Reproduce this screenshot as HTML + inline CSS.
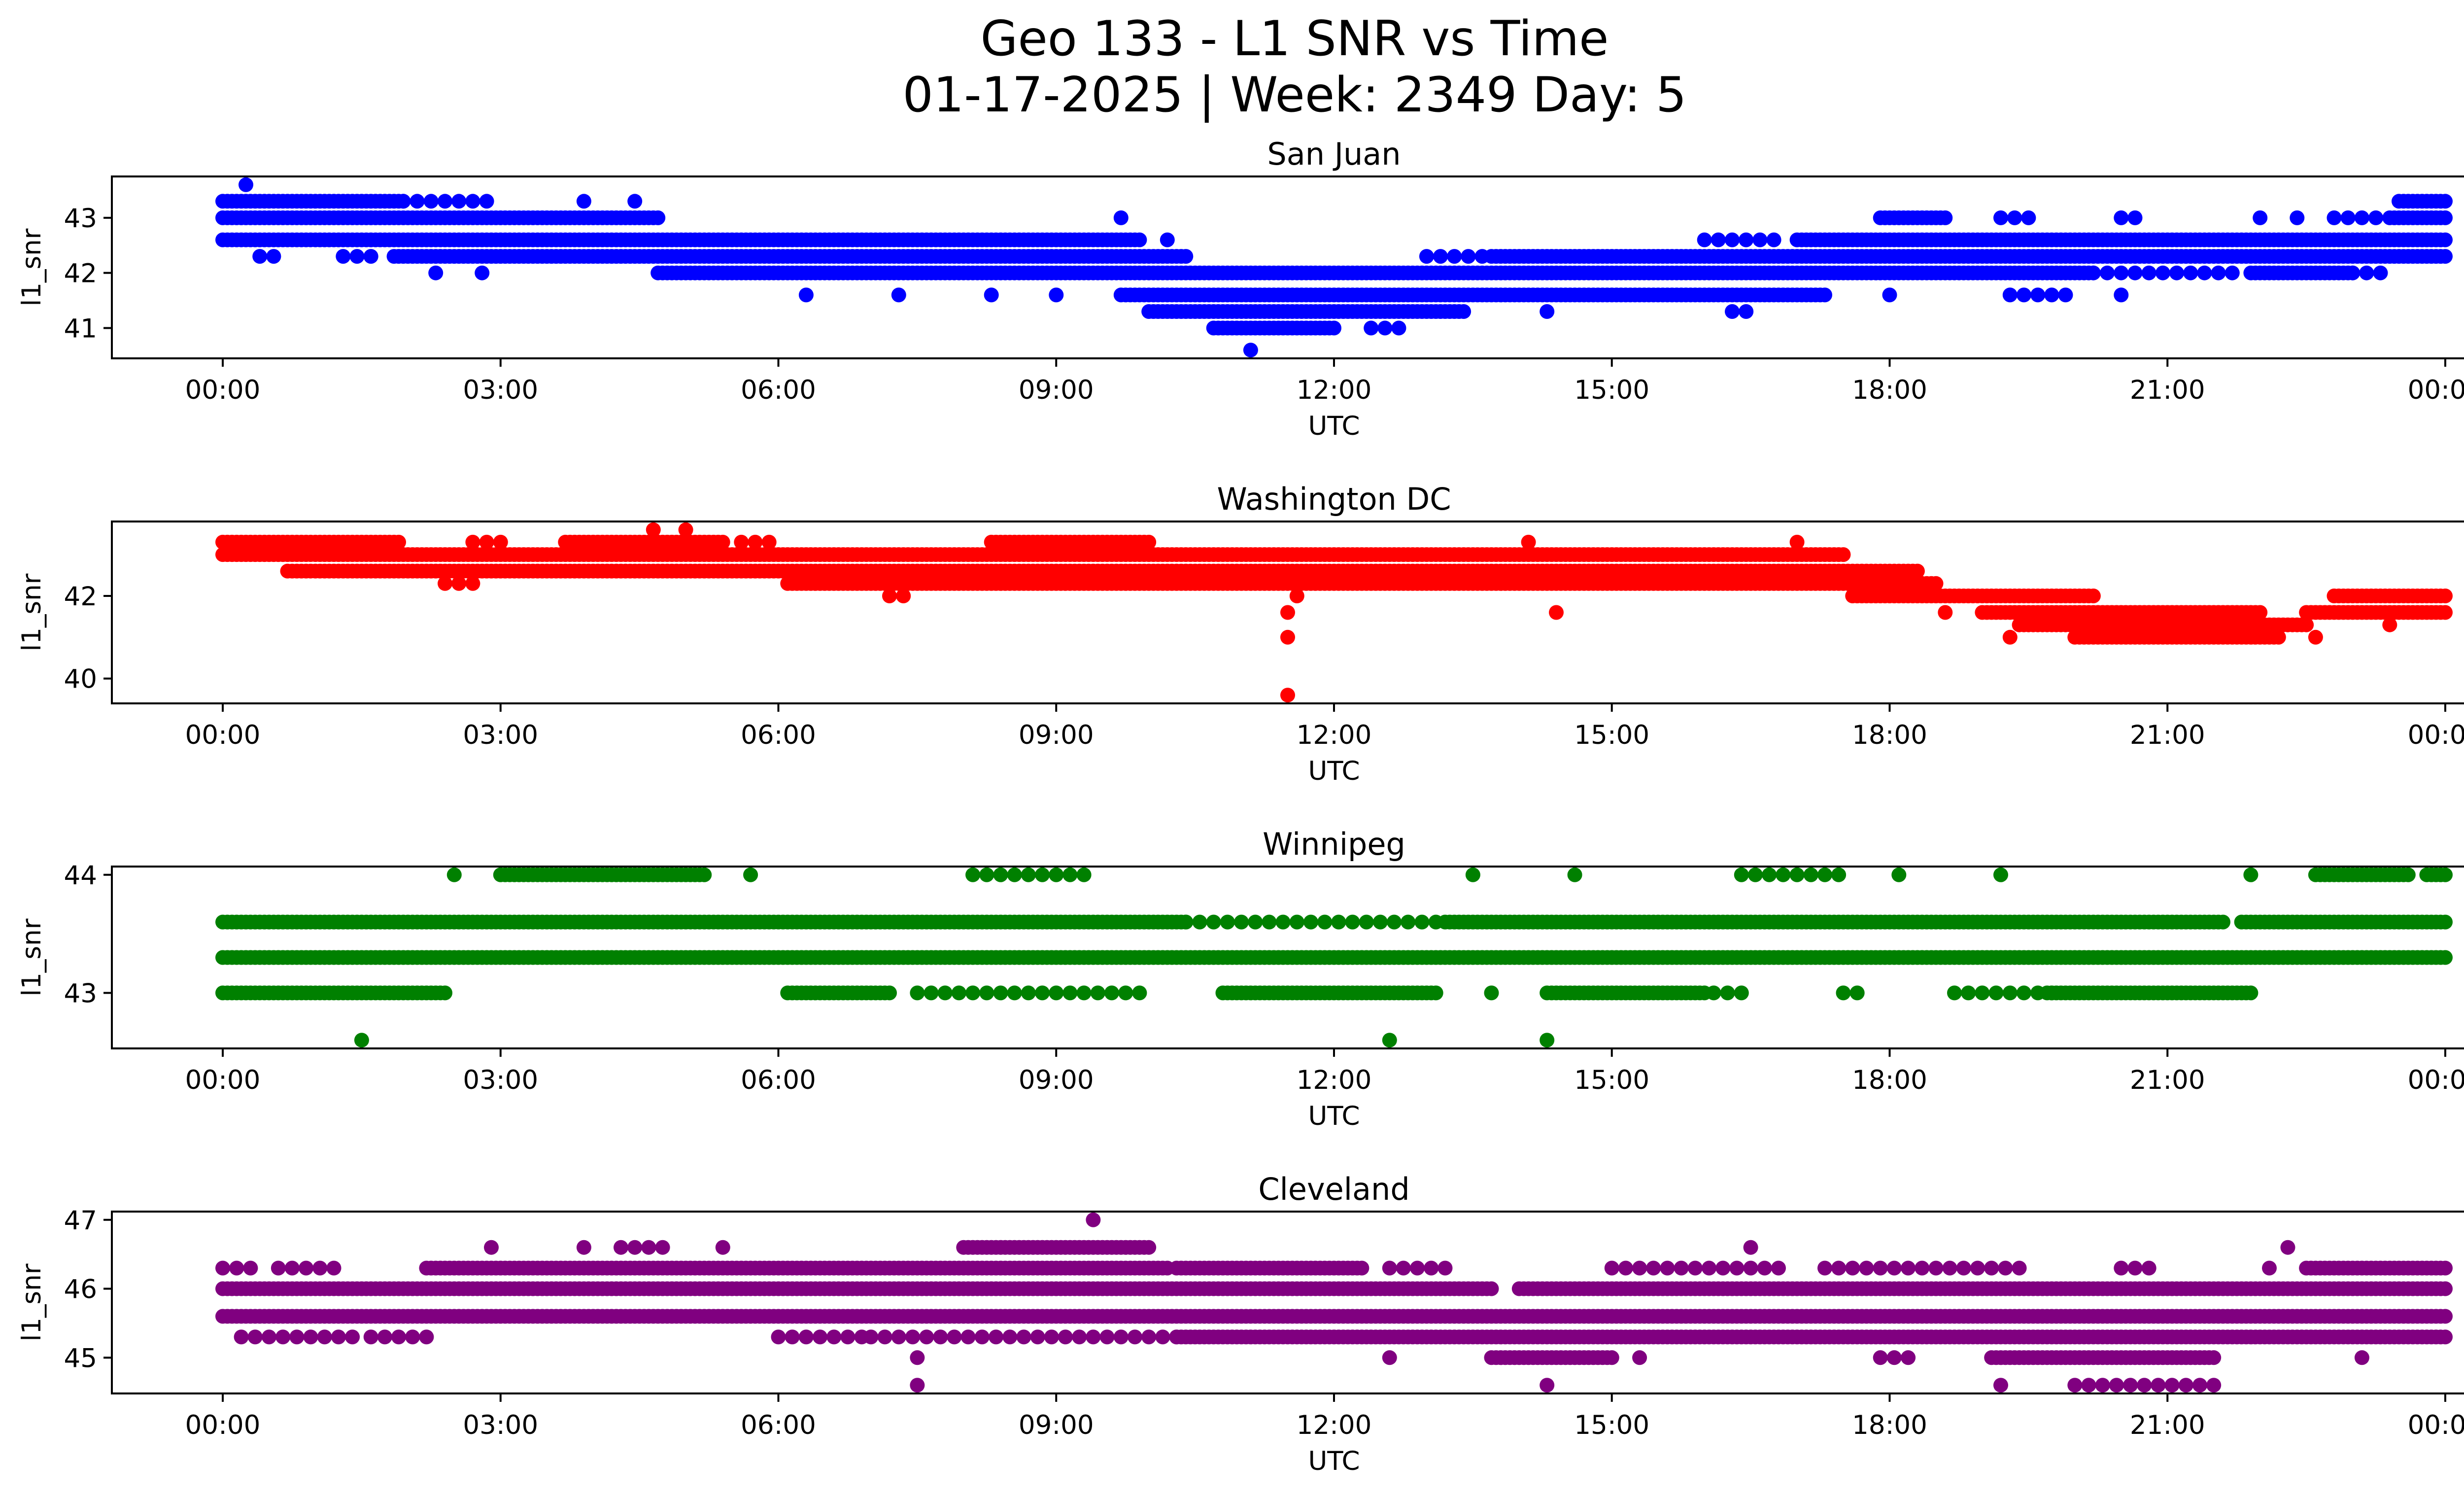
<!DOCTYPE html>
<html><head><meta charset="utf-8">
<style>
html,body{margin:0;padding:0;background:#fff;}
svg{display:block;font-family:"DejaVu Sans","Liberation Sans",sans-serif;}
</style></head>
<body>
<svg id="fig" xmlns="http://www.w3.org/2000/svg" width="5226" height="3033" viewBox="0 0 5226 3033">
<rect width="5226" height="3033" fill="#fff"/>
<text x="2627" y="112" font-size="98" text-anchor="middle">Geo 133 - L1 SNR vs Time</text>
<text x="2627" y="226" font-size="98" text-anchor="middle">01-17-2025 | Week: 2349 Day: 5</text>
</svg>
<script>
// Data runs: [level (dB-Hz), startHour, endHour, dense(1)/sparse(0)]
const stationNames = ["San Juan", "Washington DC", "Winnipeg", "Cleveland"];
const stationColors = ["#0000ff", "#ff0000", "#008000", "#800080"];
const sanJuanRuns = [
  [43.3,0,1.95,1],[43.3,1.95,2.9,0],[43.3,3.9,3.9,0],[43.3,4.45,4.45,0],[43.3,23.5,24,1],
  [43.0,0,4.7,1],[43.0,9.7,9.7,0],[43.0,17.9,18.6,1],[43.0,19.2,19.5,0],[43.0,20.5,20.7,0],[43.0,22.0,22.0,0],[43.0,22.4,22.5,0],[43.0,22.8,23.3,0],[43.0,23.4,24,1],
  [43.6,0.25,0.25,0],
  [42.6,0,9.9,1],[42.6,17.0,24,1],[42.6,10.2,10.3,0],[42.6,16.0,16.8,0],
  [42.3,0.4,0.6,0],[42.3,1.3,1.6,0],[42.3,1.85,10.4,1],[42.3,13.0,13.6,0],[42.3,13.7,24,1],
  [42.0,4.7,20.2,1],[42.0,20.2,21.8,0],[42.0,21.9,23.0,1],[42.0,23.0,23.3,0],[42.0,2.3,2.3,0],[42.0,2.8,2.8,0],
  [41.6,9.7,17.3,1],[41.6,6.3,6.3,0],[41.6,7.3,7.3,0],[41.6,8.3,8.4,0],[41.6,9.0,9.1,0],[41.6,18.0,18.0,0],[41.6,19.3,20.0,0],[41.6,20.5,20.6,0],
  [41.3,10.0,13.4,1],[41.3,14.3,14.3,0],[41.3,16.3,16.5,0],
  [41.0,10.7,12.0,1],[41.0,12.4,12.7,0],
  [40.6,11.1,11.1,0]
];
const washingtonRuns = [
  [43.3,0,1.9,1],[43.3,2.7,3.1,0],[43.3,3.7,5.4,1],[43.3,5.6,6.0,0],[43.3,8.3,10.0,1],[43.3,14.1,14.1,0],[43.3,17.0,17.0,0],
  [43.0,0,17.5,1],
  [42.6,0.7,18.3,1],
  [42.3,2.4,2.7,0],[42.3,6.1,18.5,1],
  [42.0,7.2,7.4,0],[42.0,11.6,11.6,0],[42.0,17.6,20.2,1],[42.0,22.8,24,1],
  [41.6,19.0,22.0,1],[41.6,22.5,24,1],[41.6,11.5,11.5,0],[41.6,14.4,14.4,0],[41.6,18.6,18.6,0],
  [41.3,19.4,22.5,1],[41.3,23.4,23.4,0],
  [41.0,20.0,22.2,1],[41.0,19.3,19.3,0],[41.0,11.5,11.5,0],[41.0,22.6,22.6,0],
  [43.6,4.65,4.65,0],[43.6,5.0,5.0,0],
  [39.6,11.5,11.5,0]
];
const winnipegRuns = [
  [43.3,0,24,1],
  [43.6,0,10.4,1],[43.6,10.4,13.2,0],[43.6,13.2,21.6,1],[43.6,21.8,24,1],
  [43.0,0,2.4,1],[43.0,6.1,7.2,1],[43.0,7.5,10.0,0],[43.0,10.8,13.1,1],[43.0,13.7,13.7,0],[43.0,14.3,16.0,1],[43.0,16.1,16.5,0],[43.0,17.5,17.7,0],[43.0,18.7,19.8,0],[43.0,19.7,21.9,1],
  [44.0,2.5,2.5,0],[44.0,3.0,5.2,1],[44.0,5.7,5.7,0],[44.0,8.1,9.4,0],[44.0,13.5,13.6,0],[44.0,14.6,14.6,0],[44.0,16.4,17.5,0],[44.0,18.1,18.1,0],[44.0,19.2,19.2,0],[44.0,21.9,21.9,0],[44.0,22.6,23.6,1],[44.0,23.8,24,1],
  [42.6,1.5,1.5,0],[42.6,12.6,12.65,0],[42.6,14.3,14.3,0]
];
const clevelandRuns = [
  [46.0,0,13.7,1],[46.0,14.0,24,1],
  [45.6,0,24,1],
  [46.3,0,0.3,0],[46.3,0.6,1.3,0],[46.3,2.2,10.2,1],[46.3,10.3,12.3,1],[46.3,12.6,13.2,0],[46.3,15.0,16.8,0],[46.3,17.3,19.4,0],[46.3,20.5,20.8,0],[46.3,22.1,22.1,0],[46.3,22.5,24,1],
  [46.6,8.0,10.0,1],[46.6,2.9,2.9,0],[46.6,3.9,3.9,0],[46.6,4.3,4.8,0],[46.6,5.4,5.4,0],[46.6,16.5,16.5,0],[46.6,22.3,22.3,0],
  [45.3,0.2,1.5,0],[45.3,1.6,2.2,0],[45.3,6.0,7.0,0],[45.3,7.0,10.3,0],[45.3,10.3,24,1],
  [45.0,13.7,15.0,1],[45.0,19.1,21.5,1],[45.0,7.5,7.5,0],[45.0,12.6,12.6,0],[45.0,15.3,15.3,0],[45.0,17.9,18.3,0],[45.0,23.1,23.1,0],
  [44.6,7.5,7.5,0],[44.6,14.3,14.4,0],[44.6,19.2,19.2,0],[44.6,20.0,21.6,0],
  [47.0,9.4,9.4,0]
];
const yTicks0 = [41, 42, 43];
const yTicks1 = [40, 42];
const yTicks2 = [43, 44];
const yTicks3 = [45, 46, 47];
const xTickHours = [0, 3, 6, 9, 12, 15, 18, 21, 24];
const xTickLabels = ["00:00","03:00","06:00","09:00","12:00","15:00","18:00","21:00","00:00"];

const NS = "http://www.w3.org/2000/svg";
const svg = document.getElementById("fig");
const allRuns = [sanJuanRuns, washingtonRuns, winnipegRuns, clevelandRuns];
const allTicks = [yTicks0, yTicks1, yTicks2, yTicks3];
const slugs = ["san-juan", "washington-dc", "winnipeg", "cleveland"];
const AX_L = 227, AX_R = 5187, AX_H = 369, AX_TOP0 = 358, AX_STEP = 700;
const X0 = 452, X24 = 4962;
function xScale(h){ return X0 + (X24 - X0) * h / 24; }
function mk(tag, attrs){ const e = document.createElementNS(NS, tag); for (const k in attrs) e.setAttribute(k, attrs[k]); return e; }

for (let p = 0; p < 4; p++) {
  const runs = allRuns[p];
  const top = AX_TOP0 + p * AX_STEP, bot = top + AX_H;
  let mn = Infinity, mx = -Infinity;
  runs.forEach(r => { mn = Math.min(mn, r[0]); mx = Math.max(mx, r[0]); });
  const rng = mx - mn, lo = mn - 0.05 * rng, hi = mx + 0.05 * rng;
  const yScale = v => bot - (v - lo) / (hi - lo) * AX_H;

  const g = mk("g", {});
  
  
  svg.appendChild(g);

  const pts = mk("g", {fill: stationColors[p]});
  
  
  g.appendChild(pts);
  runs.forEach(r => {
    const step = r[3] ? 0.05 : 0.15;
    const y = yScale(r[0]);
    for (let h = r[1]; h <= r[2] + 1e-9; h += step) {
      const c = mk("circle", {cx: xScale(h).toFixed(1), cy: y.toFixed(1), r: 15});
      
      
      pts.appendChild(c);
    }
  });

  const frame = mk("rect", {x: AX_L, y: top, width: AX_R - AX_L, height: AX_H, fill: "none", stroke: "#000", "stroke-width": 4});
  
  
  g.appendChild(frame);

  const title = mk("text", {x: (AX_L + AX_R) / 2, y: top - 24, "font-size": 62, "text-anchor": "middle"});
  title.textContent = stationNames[p];
  
  
  g.appendChild(title);

  xTickHours.forEach((h, i) => {
    const x = xScale(h);
    const t = mk("line", {x1: x, x2: x, y1: bot, y2: bot + 17, stroke: "#000", "stroke-width": 4});
    
    
    g.appendChild(t);
    const l = mk("text", {x: x, y: bot + 82, "font-size": 53, "text-anchor": "middle"});
    l.textContent = xTickLabels[i];
    
    
    g.appendChild(l);
  });
  const xl = mk("text", {x: xScale(12), y: bot + 155, "font-size": 53, "text-anchor": "middle"});
  xl.textContent = "UTC";
  
  
  g.appendChild(xl);

  allTicks[p].forEach(v => {
    const y = yScale(v);
    const t = mk("line", {x1: AX_L - 17, x2: AX_L, y1: y, y2: y, stroke: "#000", "stroke-width": 4});
    
    
    g.appendChild(t);
    const l = mk("text", {x: AX_L - 30, y: y + 19, "font-size": 53, "text-anchor": "end"});
    l.textContent = String(v);
    
    
    g.appendChild(l);
  });
  const yl = mk("text", {x: 0, y: 0, "font-size": 53, "text-anchor": "middle", transform: `translate(82,${top + AX_H / 2}) rotate(-90)`});
  yl.textContent = "l1_snr";
  
  
  g.appendChild(yl);
}
</script>
</body></html>
